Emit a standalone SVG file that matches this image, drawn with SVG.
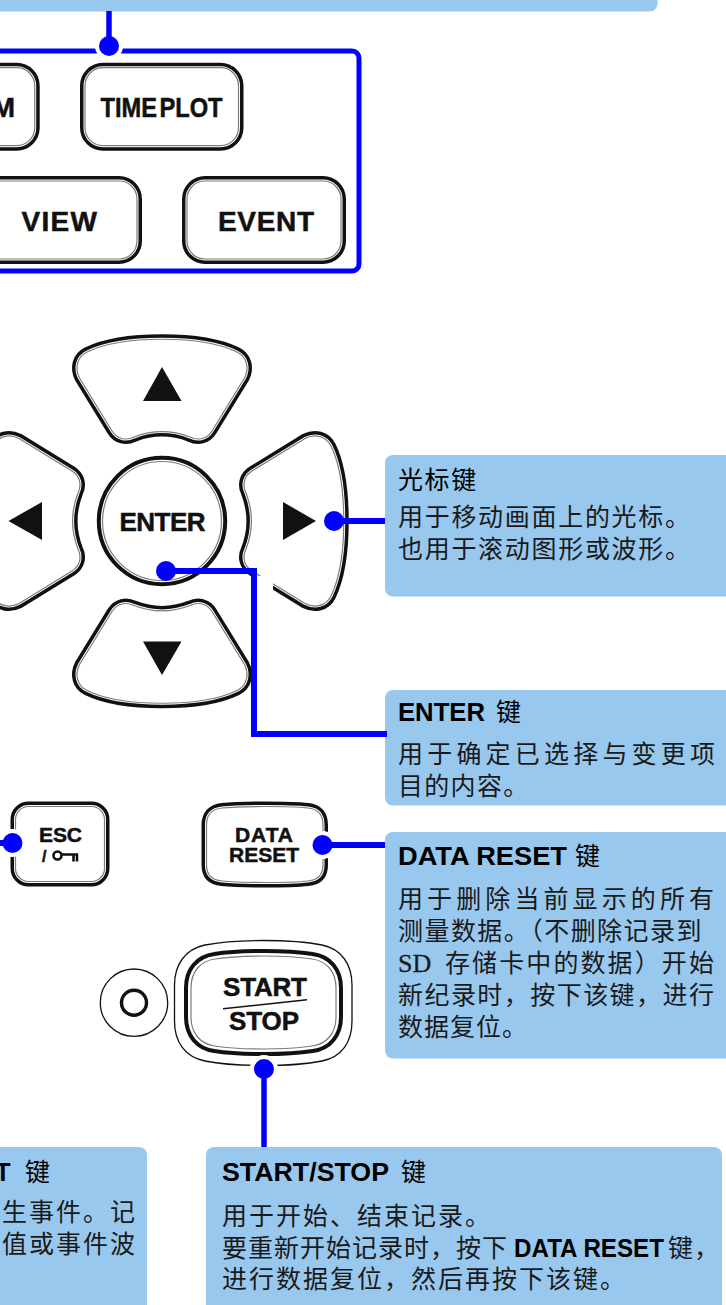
<svg xmlns="http://www.w3.org/2000/svg" width="726" height="1305" viewBox="0 0 726 1305">
<style>
.k{fill:none;stroke:#111;stroke-width:10}
.w{fill:none;stroke:#fff;stroke-width:3}
.f{fill:#fff;stroke:none}
.g{fill:none;stroke:#7c7c7c;stroke-width:1.200}
.box{fill:#99c8ee}
.conn{fill:none;stroke:#00f;stroke-width:6}
.dot{fill:#00f}
.halo{fill:#fff}
.key{font-family:"Liberation Sans",Arial,sans-serif;font-weight:700;fill:#111;stroke:#111;stroke-width:.5}
.t{font-family:"Noto Sans CJK SC",sans-serif;font-size:25px;fill:#1a1a1a}
.tb{font-family:"Liberation Sans",Arial,sans-serif;font-weight:700;font-size:25px;fill:#000}
.ts{font-family:"Noto Sans CJK SC",sans-serif;font-size:25px;fill:#000}
</style>
<defs>
<path id="pArrow" d="M87,352 C122,335 202,335 237,352 C247,357 249.500,368 244.500,378 L212,431 C207,439 198,441 190,437 C172,430 152,430 134,437 C126,441 117,439 112,431 L79.500,378 C74.500,368 77,357 87,352 Z"/>
<g id="arrowKey"><use href="#pArrow" class="k"/><use href="#pArrow" class="w"/><use href="#pArrow" class="f"/><use href="#pArrow" class="g"/></g>
<rect id="rTime" x="85" y="67.700" width="153.500" height="78" rx="18"/>
<rect id="rM" x="-60" y="67.700" width="94.700" height="78" rx="18"/>
<rect id="rView" x="-60" y="181" width="197" height="78" rx="18"/>
<rect id="rEvent" x="187" y="181" width="154" height="78" rx="18"/>
<rect id="rEsc" x="15.500" y="806.500" width="89" height="75" rx="13"/>
<path id="pData" d="M222,808 C240,806 290,806 308,808 C318,809 323,815 323,825 V865 C323,875 318,880 308,881 C290,883 240,883 222,881 C212,880 206.500,875 206.500,865 V825 C206.500,815 212,809 222,808 Z"/>
<path id="pStart" d="M215,959 C240,955 287,955 312,959 C327,961 336,972 336,988 V1017 C336,1033 327,1044 312,1046 C287,1050 240,1050 215,1046 C200,1044 191,1033 191,1017 V988 C191,972 200,961 215,959 Z"/>
</defs>
<rect width="726" height="1305" fill="#fff"/>

<g id="box-top"><rect class="box" x="-20" y="-20" width="677.500" height="31.500" rx="8"/></g>
<g id="key-frame"><rect x="-20" y="51" width="379" height="220" rx="7" fill="none" stroke="#00f" stroke-width="5"/></g>

<g id="key-m"><use href="#rM" class="k"/><use href="#rM" class="w"/><use href="#rM" class="f"/><use href="#rM" class="g"/><text class="key" x="15" y="117" font-size="28" text-anchor="end">M</text></g>
<g id="key-timeplot"><use href="#rTime" class="k"/><use href="#rTime" class="w"/><use href="#rTime" class="f"/><use href="#rTime" class="g"/><text class="key" x="100.500" y="117.300" font-size="28" word-spacing="-5" textLength="122" lengthAdjust="spacingAndGlyphs">TIME PLOT</text></g>
<g id="key-view"><use href="#rView" class="k"/><use href="#rView" class="w"/><use href="#rView" class="f"/><use href="#rView" class="g"/><text class="key" x="21.500" y="230.700" font-size="28" textLength="75.500">VIEW</text></g>
<g id="key-event"><use href="#rEvent" class="k"/><use href="#rEvent" class="w"/><use href="#rEvent" class="f"/><use href="#rEvent" class="g"/><text class="key" x="218" y="230.700" font-size="28" textLength="96">EVENT</text></g>

<g id="key-up"><use href="#arrowKey"/><polygon points="162,367 143,401 181.500,401" fill="#111"/></g>
<g id="key-down"><use href="#arrowKey" transform="matrix(1 0 0 -1 0 1042.500)"/><polygon points="162,675 143,641.500 181.500,641.500" fill="#111"/></g>
<g id="key-right"><use href="#arrowKey" transform="rotate(90 162 521)"/><polygon points="316,521 283,502 283,540" fill="#111"/></g>
<g id="key-left"><use href="#arrowKey" transform="rotate(-90 162 521)"/><polygon points="8.500,521 42,502 42,540" fill="#111"/></g>
<g id="key-enter">
<circle cx="162" cy="521" r="63.200" fill="#fff" stroke="#111" stroke-width="4"/>
<circle cx="162" cy="521" r="59.500" fill="none" stroke="#7c7c7c" stroke-width="1.200"/>
<text class="key" x="119.500" y="531" font-size="26" textLength="86">ENTER</text>
</g>

<g id="key-esc"><use href="#rEsc" class="k"/><use href="#rEsc" class="w"/><use href="#rEsc" class="f"/><use href="#rEsc" class="g"/>
<text class="key" x="39" y="842" font-size="21" textLength="43">ESC</text>
<text class="key" x="42" y="862" font-size="16">/</text>
<circle cx="57.500" cy="855.500" r="4" fill="none" stroke="#111" stroke-width="2.600"/>
<path d="M61,854.500 H78 M73.500,854 V861.500 M77,854 V861.500" fill="none" stroke="#111" stroke-width="2.600"/>
</g>
<g id="key-data-reset"><use href="#pData" class="k"/><use href="#pData" class="w"/><use href="#pData" class="f"/><use href="#pData" class="g"/>
<text class="key" x="235" y="842" font-size="21" textLength="58">DATA</text>
<text class="key" x="229" y="862" font-size="21" textLength="70">RESET</text>
</g>
<g id="led"><circle cx="134" cy="1002.700" r="33.700" fill="#fff" stroke="#111" stroke-width="1.300"/><circle cx="134" cy="1002.700" r="12.500" fill="none" stroke="#111" stroke-width="3.400"/></g>
<g id="key-start-stop">
<path d="M205,945 C235,939 292,939 322,945 C342,949 352,965 352,985 V1021 C352,1042 342,1057 322,1061 C292,1067 235,1067 205,1061 C185,1057 174.500,1042 174.500,1021 V985 C174.500,965 185,949 205,945 Z" fill="#fff" stroke="#111" stroke-width="1.300"/>
<use href="#pStart" style="fill:none;stroke:#111;stroke-width:14"/><use href="#pStart" style="fill:none;stroke:#fff;stroke-width:6"/><use href="#pStart" class="f"/><use href="#pStart" class="g"/>
<text class="key" x="223" y="996" font-size="26" textLength="84">START</text>
<path d="M223,1008 L307,999 L307,1000.500 L223,1009.500 Z" fill="#111"/>
<text class="key" x="229" y="1030" font-size="26" textLength="70">STOP</text>
</g>

<g id="box-cursor"><rect class="box" x="385" y="455" width="360" height="141.500" rx="8"/>
<text class="ts" x="398" y="489" letter-spacing="1.600">光标键</text>
<text class="t" x="398" y="526" letter-spacing="1.700">用于移动画面上的光标。</text>
<text class="t" x="398" y="557.500" letter-spacing="1.700">也用于滚动图形或波形。</text>
</g>
<g id="box-enter"><rect class="box" x="385" y="690" width="360" height="115.500" rx="8"/>
<text class="tb" x="398" y="720.700" font-size="26" style="font-size:26px" textLength="87" lengthAdjust="spacingAndGlyphs">ENTER</text>
<text class="ts" x="496" y="720.700">键</text>
<text class="t" x="398" y="762.500" letter-spacing="4.200">用于确定已选择与变更项</text>
<text class="t" x="398" y="795" letter-spacing="1.300">目的内容。</text>
</g>
<g id="box-data-reset"><rect class="box" x="385" y="832" width="360" height="226.500" rx="8"/>
<text class="tb" x="398" y="865" style="font-size:26px" textLength="169" lengthAdjust="spacingAndGlyphs">DATA RESET</text>
<text class="ts" x="575" y="865">键</text>
<text class="t" x="398" y="908" letter-spacing="4.100">用于删除当前显示的所有</text>
<text class="t" x="398" y="940" letter-spacing="1.450">测量数据。（不删除记录到</text>
<text x="398" y="972" font-family="'Liberation Serif',serif" font-size="26" fill="#1a1a1a" stroke="#1a1a1a" stroke-width=".3">SD</text>
<text class="t" x="445" y="972" letter-spacing="2.100">存储卡中的数据）开始</text>
<text class="t" x="398" y="1004" letter-spacing="1.450">新纪录时，按下该键，进行</text>
<text class="t" x="398" y="1036" letter-spacing="1">数据复位。</text>
</g>
<g id="box-event"><rect class="box" x="-20" y="1147" width="167" height="180" rx="8"/>
<text class="tb" x="10.500" y="1181" text-anchor="end">T</text>
<text class="ts" x="25" y="1181">键</text>
<text class="t" x="2" y="1221" letter-spacing="2">生事件。记</text>
<text class="t" x="2" y="1253" letter-spacing="2">值或事件波</text>
</g>
<g id="box-start-stop"><rect class="box" x="206" y="1147" width="516" height="180" rx="8"/>
<text class="tb" x="222" y="1181" textLength="167" lengthAdjust="spacingAndGlyphs">START/STOP</text>
<text class="ts" x="401" y="1181">键</text>
<text class="t" x="222" y="1225" letter-spacing="2">用于开始、结束记录。</text>
<text class="t" x="222" y="1257" letter-spacing="1">要重新开始记录时，按下</text>
<text class="tb" x="514" y="1257" textLength="150" lengthAdjust="spacingAndGlyphs">DATA RESET</text>
<text class="t" x="668" y="1257" letter-spacing="1">键，</text>
<text class="t" x="222" y="1288" letter-spacing="2">进行数据复位，然后再按下该键。</text>
</g>

<g id="connectors">
<circle class="halo" cx="109" cy="46" r="14"/>
<path class="conn" style="stroke-width:5.500" d="M109,11 V46"/>
<circle class="dot" cx="109" cy="46" r="10"/>
<path class="conn" d="M334,521 H385"/>
<circle class="dot" cx="334" cy="521" r="10"/>
<rect class="halo" x="256" y="576" width="17" height="24"/>
<path class="conn" d="M166,571 H254 V734 H387"/>
<circle class="dot" cx="166" cy="571" r="10"/>
<circle class="halo" cx="12.500" cy="843" r="14"/>
<path class="conn" d="M-5,843 H12"/>
<circle class="dot" cx="12.500" cy="843" r="10"/>
<circle class="halo" cx="322.500" cy="845" r="14"/>
<path class="conn" d="M322,845 H385"/>
<circle class="dot" cx="322.500" cy="845" r="10"/>
<circle class="halo" cx="264" cy="1069" r="14"/>
<path class="conn" style="stroke-width:5.500" d="M264,1069 V1147"/>
<circle class="dot" cx="264" cy="1069" r="10"/>
</g>
</svg>
